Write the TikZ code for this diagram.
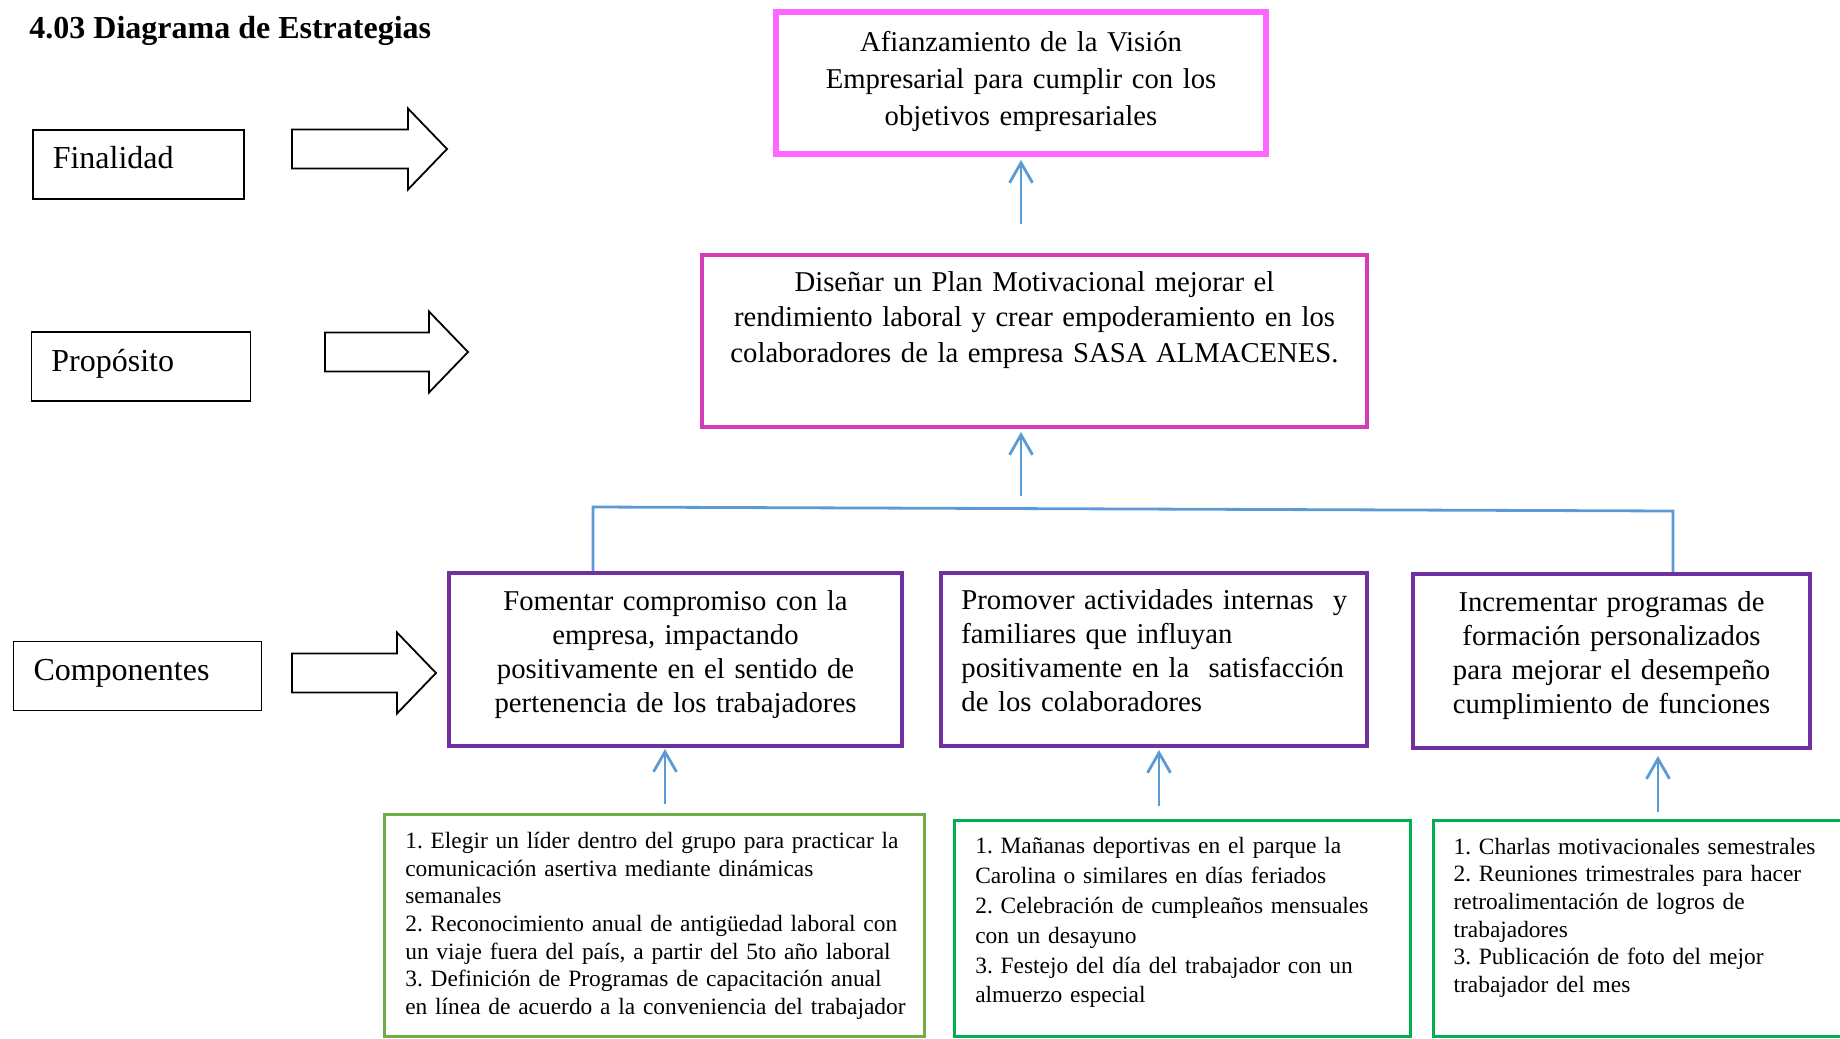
\documentclass[tikz,border=0pt]{standalone}
\usepackage{fontspec}
\setmainfont{Liberation Serif}
\usetikzlibrary{arrows.meta}
\definecolor{rosa}{HTML}{FF66FF}
\definecolor{fucsia}{HTML}{D43CB8}
\definecolor{morado}{HTML}{7030A0}
\definecolor{verdeclaro}{HTML}{70AD47}
\definecolor{verde}{HTML}{00B050}
\definecolor{azul}{HTML}{5B9BD5}
\frenchspacing
\begin{document}
\begin{tikzpicture}[x=.5pt, y=-.5pt,
    caja/.style={draw, inner sep=0pt},
    etiqueta/.style={draw, line width=.8pt, inner xsep=10pt, inner ysep=0pt, minimum height=34.5pt, text height=11pt, text depth=6.3pt, align=left, font=\fontsize{16}{19}\selectfont},
    texto/.style={inner sep=0pt, align=center, anchor=base},
    lista/.style={inner sep=0pt, align=left, anchor=base west},
    flecha/.style={azul, line width=1.4pt, -{Straight Barb[length=10pt, width=11.5pt]}},
    linea/.style={azul, line width=1.4pt}]
    \useasboundingbox (0,0) rectangle (1840,1038);
    % titulo y niveles
    \node[anchor=base west, inner sep=0pt, font=\bfseries\fontsize{16}{19}\selectfont] (titulo) at (29,39) {4.03 Diagrama de Estrategias};
    \node[etiqueta, minimum width=105.6pt, text width=85.6pt] (finalidad) at (138.4,164.2) {Finalidad};
    \node[etiqueta, minimum width=109.6pt, text width=89.6pt] (proposito) at (141,366.5) {Propósito};
    \node[etiqueta, minimum width=124pt, text width=104pt] (componentes) at (137.5,676) {Componentes};
    \foreach \x/\y/\l in {292/149/155, 325/352/143, 292/673/144}
        \draw[line width=.9pt] (\x,\y-19.5) -- (\x+\l-39,\y-19.5) -- (\x+\l-39,\y-40.5) -- (\x+\l,\y) -- (\x+\l-39,\y+40.5) -- (\x+\l-39,\y+19.5) -- (\x,\y+19.5) -- cycle;
    % finalidad y proposito
    \node[caja, rosa, line width=3pt, minimum width=245pt, minimum height=71pt] (vision) at (1021,83) {};
    \node[texto, text width=240pt, font=\fontsize{14.35}{18.5}\selectfont] (vision-t) at ([yshift=-21.5pt]vision.north) {Afianzamiento de la Visión\\Empresarial para cumplir con los\\objetivos empresariales};
    \node[caja, fucsia, line width=2pt, minimum width=332.5pt, minimum height=86pt] (plan) at (1034.5,341) {};
    \node[texto, text width=320pt, font=\fontsize{14.35}{17.75}\selectfont] (plan-t) at ([yshift=-19pt]plan.north) {Diseñar un Plan Motivacional mejorar el\\rendimiento laboral y crear empoderamiento en los\\colaboradores de la empresa SASA ALMACENES.};
    % componentes
    \node[caja, morado, line width=2pt, minimum width=226.5pt, minimum height=86.5pt] (comp1) at (675.5,659.5) {};
    \node[caja, morado, line width=2pt, minimum width=213pt, minimum height=86.5pt] (comp2) at (1154,659.5) {};
    \node[caja, morado, line width=2pt, minimum width=198.5pt, minimum height=87pt] (comp3) at (1611.5,661) {};
    \node[texto, text width=215pt, font=\fontsize{14.35}{17}\selectfont] (comp1-t) at ([yshift=-19.5pt]comp1.north) {Fomentar compromiso con la\\empresa, impactando\\positivamente en el sentido de\\pertenencia de los trabajadores};
    \node[lista, text width=205pt, font=\fontsize{14.35}{17}\selectfont] (comp2-t) at ([xshift=11pt, yshift=-19pt]comp2.north west) {Promover actividades internas \ y\\familiares que influyan\\positivamente en la \ satisfacción\\de los colaboradores};
    \node[texto, text width=190pt, font=\fontsize{14.35}{17}\selectfont] (comp3-t) at ([yshift=-19.7pt]comp3.north) {Incrementar programas de\\formación personalizados\\para mejorar el desempeño\\cumplimiento de funciones};
    % acciones
    \node[caja, verdeclaro, line width=1.6pt, minimum width=270pt, minimum height=111pt] (acc1) at (654.5,925.5) {};
    \node[caja, verde, line width=1.6pt, minimum width=228pt, minimum height=108pt] (acc2) at (1182.5,928.5) {};
    \node[caja, verde, line width=1.6pt, minimum width=213pt, minimum height=108pt] (acc3) at (1646.8,928.5) {};
    \node[lista, text width=265pt, font=\fontsize{11.7}{13.85}\selectfont] (acc1-t) at ([xshift=11pt, yshift=-17.75pt]acc1.north west) {1. Elegir un líder dentro del grupo para practicar la\\comunicación asertiva mediante dinámicas\\semanales\\2. Reconocimiento anual de antigüedad laboral con\\un viaje fuera del país, a partir del 5to año laboral\\3. Definición de Programas de capacitación anual\\en línea de acuerdo a la conveniencia del trabajador};
    \node[lista, text width=215pt, font=\fontsize{11.7}{14.9}\selectfont] (acc2-t) at ([xshift=11pt, yshift=-17.5pt]acc2.north west) {1. Mañanas deportivas en el parque la\\Carolina o similares en días feriados\\2. Celebración de cumpleaños mensuales\\con un desayuno\\3. Festejo del día del trabajador con un\\almuerzo especial};
    \node[lista, text width=200pt, font=\fontsize{11.7}{13.8}\selectfont] (acc3-t) at ([xshift=10.5pt, yshift=-17.7pt]acc3.north west) {1. Charlas motivacionales semestrales\\2. Reuniones trimestrales para hacer\\retroalimentación de logros de\\trabajadores\\3. Publicación de foto del mejor\\trabajador del mes};
    % conectores
    \coordinate (busL) at (593,507);
    \coordinate (busR) at (1673,511);
    \draw[linea] (comp1.north -| busL) -- (busL) -- (busR) -- (comp3.north -| busR);
    \draw[flecha, shorten <=5.5pt, shorten >=1.5pt] (vision.south |- busL) -- (vision.south |- plan.south);
    \draw[flecha, shorten <=14.5pt, shorten >=1.5pt] (vision.south |- plan.north) -- (vision.south);
    \foreach \a/\c/\d/\s/\t in {acc1/comp1/-5.25pt/4.5pt/.5pt, acc2/comp2/2.5pt/6.5pt/1pt, acc3/comp3/23.25pt/3.25pt/3pt}
        \draw[flecha, shorten <=\s, shorten >=\t] ([xshift=\d]\c.south |- \a.north) -- ([xshift=\d]\c.south);
\end{tikzpicture}
\end{document}
